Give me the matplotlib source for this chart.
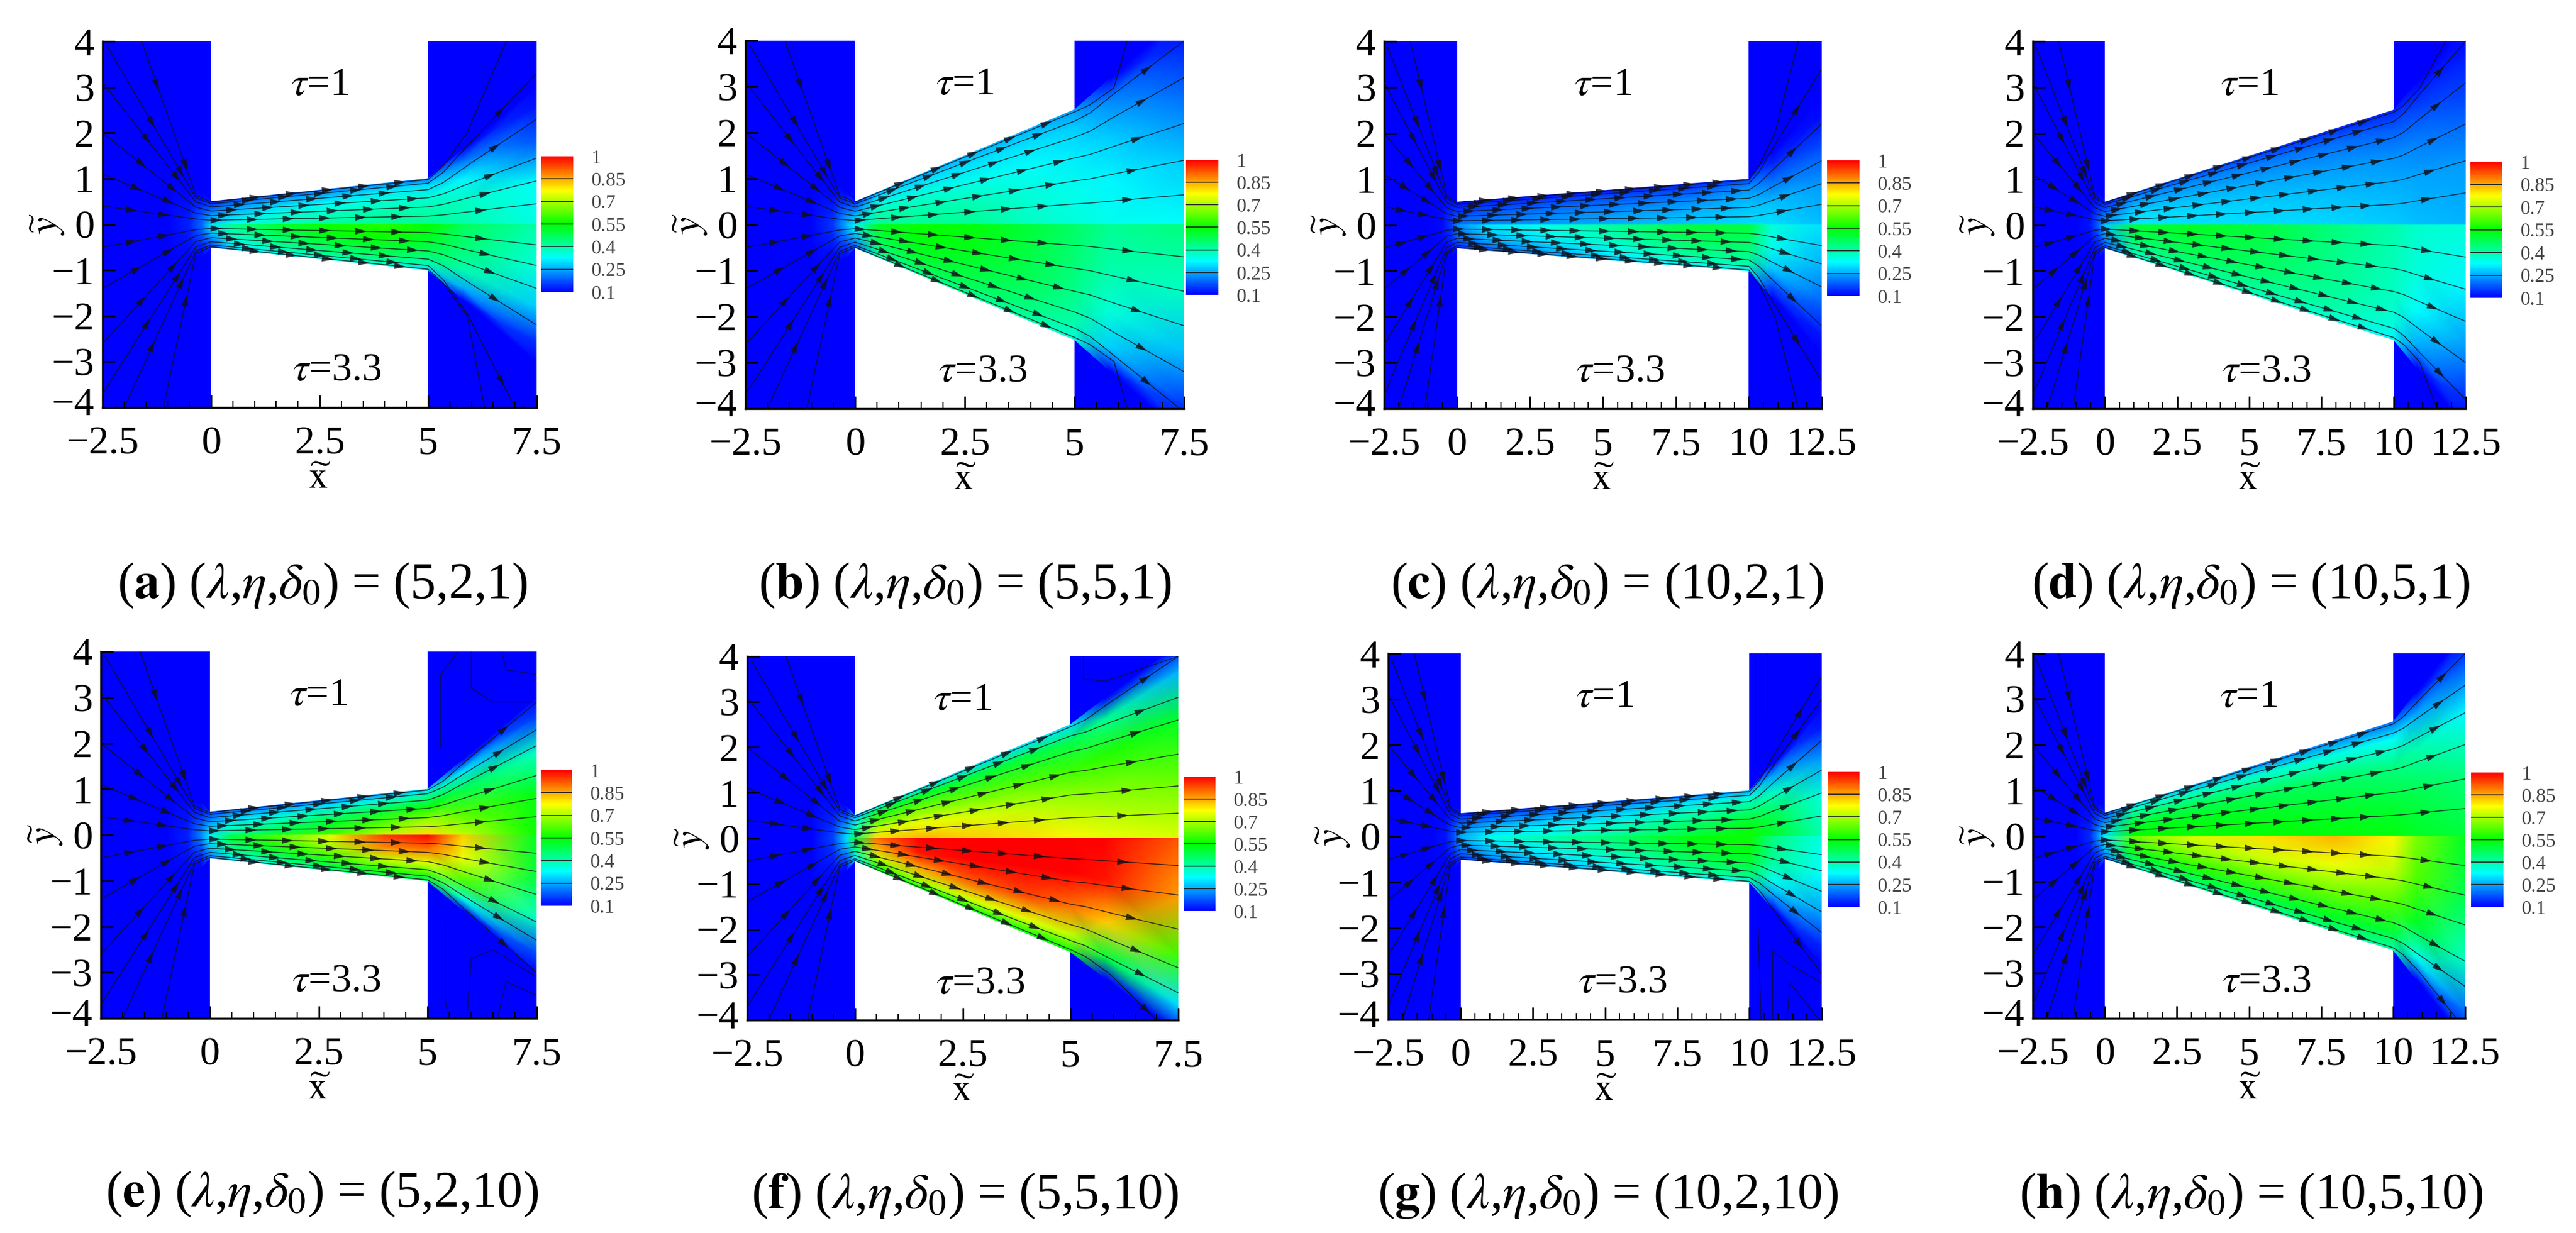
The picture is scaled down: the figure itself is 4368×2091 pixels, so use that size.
import numpy as np
import matplotlib
matplotlib.use('Agg')
import matplotlib.pyplot as plt
from matplotlib.colors import LinearSegmentedColormap, Normalize
from matplotlib.cm import ScalarMappable
from matplotlib.transforms import ScaledTranslation

plt.rcParams['font.family'] = ['Liberation Serif', 'DejaVu Serif']
plt.rcParams['mathtext.fontset'] = 'stix'

W, H = 4368, 2091

# colour scale
cbar_ticks = [0.1, 0.25, 0.4, 0.55, 0.7, 0.85, 1]
cmap = LinearSegmentedColormap.from_list('rainbow5', ['#0000ff', '#00ffff', '#00ff00', '#ffff00', '#ff0000'])
norm = Normalize(0.1, 1)

# rows of the value tables: channel stations as fraction of lambda, then stations behind the exit
frac_stations = [0, 0.1, 0.3, 0.55, 0.8, 1.0]
exit_stations = [0.8, 2.5]
inlet_stations = [-1.0, -0.5, -0.2]
inlet_heights = [1.5, 1.0, 0.7]
# columns: fraction of local half height
t_levels = [0, 0.3, 0.6, 0.85, 1.0]

labels = ['a', 'b', 'c', 'd', 'e', 'f', 'g', 'h']
lambdas = [5, 5, 10, 10, 5, 5, 10, 10]
etas = [2, 5, 2, 5, 2, 5, 2, 5]
deltas = [1, 1, 1, 1, 10, 10, 10, 10]
fan_tops = [3.0, 4.6, 2.8, 4.4, 3.0, 4.3, 2.8, 4.5]

# field values, tau=1 half (upper) and tau=3.3 half (lower)
a_upper = [[.28, .25, .2, .15, .12], [.33, .3, .25, .2, .15], [.38, .36, .3, .24, .18], [.42, .38, .33, .26, .2],
           [.42, .4, .36, .3, .22], [.42, .4, .36, .3, .2], [.4, .38, .32, .2, .1], [.35, .33, .18, .12, .1]]
a_lower = [[.3, .28, .22, .17, .15], [.42, .4, .36, .32, .28], [.5, .47, .43, .38, .33], [.56, .54, .48, .42, .36],
           [.58, .56, .5, .43, .36], [.55, .52, .47, .4, .3], [.47, .45, .4, .25, .1], [.4, .36, .28, .14, .1]]
b_upper = [[.3, .28, .22, .17, .14], [.42, .4, .36, .3, .25], [.42, .4, .36, .3, .25], [.42, .39, .34, .3, .26],
           [.38, .36, .33, .3, .26], [.36, .34, .31, .28, .24], [.34, .32, .28, .22, .1], [.33, .28, .2, .13, .1]]
b_lower = [[.32, .3, .25, .2, .17], [.52, .5, .46, .42, .38], [.56, .54, .52, .48, .42], [.54, .53, .5, .47, .42],
           [.5, .49, .47, .44, .4], [.46, .45, .43, .4, .36], [.42, .4, .36, .28, .1], [.44, .38, .27, .15, .1]]
c_upper = [[.2, .18, .15, .12, .1], [.22, .2, .17, .14, .12], [.24, .22, .19, .15, .12], [.26, .24, .2, .16, .12],
           [.28, .26, .22, .17, .13], [.3, .28, .26, .22, .15], [.3, .27, .2, .13, .1], [.27, .24, .17, .11, .1]]
c_lower = [[.22, .2, .18, .15, .13], [.3, .28, .25, .2, .17], [.35, .33, .29, .25, .22], [.42, .4, .36, .32, .27],
           [.5, .48, .44, .38, .32], [.5, .47, .44, .4, .32], [.36, .34, .28, .16, .1], [.3, .26, .19, .12, .1]]
d_upper = [[.24, .22, .18, .14, .12], [.31, .3, .26, .22, .18], [.3, .29, .26, .22, .17], [.3, .28, .25, .21, .15],
           [.29, .27, .24, .2, .14], [.28, .26, .23, .18, .13], [.27, .25, .21, .15, .1], [.26, .24, .17, .12, .1]]
d_lower = [[.28, .26, .22, .18, .15], [.5, .48, .44, .4, .36], [.52, .5, .47, .43, .39], [.5, .48, .46, .42, .38],
           [.44, .43, .42, .4, .36], [.4, .39, .38, .36, .32], [.37, .36, .33, .25, .1], [.36, .32, .24, .14, .1]]
e_upper = [[.3, .28, .22, .18, .15], [.42, .38, .3, .24, .18], [.5, .44, .36, .26, .18], [.6, .52, .42, .3, .2],
           [.72, .62, .5, .36, .24], [.8, .7, .56, .42, .3], [.72, .62, .48, .3, .1], [.56, .53, .38, .16, .1]]
e_lower = [[.32, .3, .26, .22, .18], [.5, .47, .42, .36, .3], [.62, .58, .5, .42, .36], [.76, .7, .6, .5, .42],
           [.95, .88, .72, .58, .48], [1.0, .9, .75, .6, .45], [.82, .76, .62, .36, .1], [.52, .5, .38, .17, .1]]
f_upper = [[.45, .42, .35, .28, .22], [.8, .72, .6, .5, .34], [.84, .76, .65, .52, .3], [.82, .74, .63, .5, .3],
           [.8, .72, .62, .5, .3], [.78, .7, .6, .48, .3], [.76, .68, .58, .42, .1], [.74, .64, .52, .26, .1]]
f_lower = [[.5, .46, .4, .32, .28], [.9, .84, .72, .6, .5], [1, .98, .85, .7, .54], [1, 1, .92, .74, .54],
           [1, 1, .94, .75, .54], [1, 1, .9, .72, .54], [1, .98, .82, .5, .1], [.92, .86, .6, .3, .1]]
g_upper = [[.25, .22, .18, .15, .12], [.32, .28, .22, .17, .13], [.36, .32, .26, .2, .15], [.42, .38, .3, .24, .17],
           [.5, .46, .38, .3, .2], [.56, .52, .44, .36, .25], [.52, .48, .38, .24, .1], [.4, .36, .24, .12, .1]]
g_lower = [[.25, .23, .2, .16, .14], [.34, .3, .26, .22, .18], [.4, .36, .31, .27, .22], [.46, .43, .38, .33, .28],
           [.54, .51, .46, .4, .34], [.56, .54, .5, .44, .34], [.44, .42, .34, .22, .1], [.35, .33, .24, .13, .1]]
h_upper = [[.3, .28, .22, .18, .15], [.55, .52, .46, .38, .3], [.56, .53, .48, .38, .26], [.55, .52, .47, .37, .22],
           [.54, .51, .46, .35, .22], [.54, .5, .44, .33, .2], [.52, .48, .4, .25, .1], [.5, .44, .32, .17, .1]]
h_lower = [[.32, .3, .26, .22, .18], [.65, .6, .52, .44, .38], [.74, .68, .58, .48, .4], [.8, .73, .62, .5, .42],
           [.84, .76, .64, .52, .44], [.78, .72, .62, .5, .4], [.66, .62, .52, .34, .1], [.52, .48, .38, .2, .1]]
uppers = [a_upper, b_upper, c_upper, d_upper, e_upper, f_upper, g_upper, h_upper]
lowers = [a_lower, b_lower, c_lower, d_lower, e_lower, f_lower, g_lower, h_lower]

# values in front of the orifice, rows x=-1, -0.5, -0.2
inlet_vals = [
    [[.1] * 5, [.13, .12, .11, .1, .1], [.2, .18, .14, .11, .1]],
    [[.1] * 5, [.15, .13, .11, .1, .1], [.26, .22, .16, .12, .1]],
    [[.1] * 5, [.11, .11, .1, .1, .1], [.15, .14, .12, .1, .1]],
    [[.1] * 5, [.12, .11, .1, .1, .1], [.2, .17, .13, .11, .1]],
    [[.1] * 5, [.13, .12, .11, .1, .1], [.22, .19, .14, .11, .1]],
    [[.1] * 5, [.16, .14, .12, .1, .1], [.3, .26, .18, .12, .1]],
    [[.1] * 5, [.12, .11, .1, .1, .1], [.18, .16, .13, .1, .1]],
    [[.1] * 5, [.14, .12, .11, .1, .1], [.25, .2, .15, .11, .1]],
]

# streamlines: start points in the inlet block, shared by all panels (inner to outer)
starts_upper = [(-2.5, 0.4), (-2.5, 1.1), (-2.5, 2.0), (-2.5, 3.1), (-2.4, 3.9), (-1.6, 4.0)]
starts_lower = [(-2.5, -0.5), (-2.5, -1.4), (-2.5, -2.6), (-2.5, -3.7), (-2.0, -4.0), (-1.1, -4.0)]
line_t_wall = [0.18, 0.38, 0.58, 0.76, 0.9, 0.98]

# streamlines: where they leave the picture on the right, per panel
ends_upper = [
    [(7.5, .45), (7.5, .95), (7.5, 1.45), (7.5, 2.3), (7.5, 3.3), (6.8, 4)],
    [(7.5, .65), (7.5, 1.4), (7.5, 2.2), (7.5, 3.2), (7.5, 4), (6.2, 4)],
    [(12.5, .45), (12.5, .9), (12.5, 1.4), (12.5, 2.2), (12.5, 3.4), (11.7, 4)],
    [(12.5, .7), (12.5, 1.4), (12.5, 2.2), (12.5, 3.1), (12.5, 4), (11.8, 4)],
    [(7.5, .4), (7.5, .8), (7.5, 1.3), (7.5, 1.95), (7.5, 2.3), (7.5, 2.9)],
    [(7.5, .55), (7.5, 1.15), (7.5, 1.85), (7.5, 2.6), (7.5, 3.1), (7.5, 4)],
    [(12.5, .45), (12.5, .95), (12.5, 1.45), (12.5, 2.1), (12.5, 3.0), (12.5, 3.5)],
    [(12.5, .6), (12.5, 1.25), (12.5, 2.0), (12.5, 2.7), (12.5, 3.3), (12.5, 4)],
]
ends_lower = [
    [(7.5, -.45), (7.5, -.9), (7.5, -1.4), (7.5, -2.2), (7.0, -4), (6.3, -4)],
    [(7.5, -.7), (7.5, -1.45), (7.5, -2.2), (7.5, -3.2), (7.4, -4), (6.2, -4)],
    [(12.5, -.45), (12.5, -.85), (12.5, -1.35), (12.5, -2.2), (12.5, -3.4), (11.7, -4)],
    [(12.5, -.7), (12.5, -1.4), (12.5, -2.1), (12.5, -3.0), (12.5, -3.8), (11.5, -4)],
    [(7.5, -.4), (7.5, -.8), (7.5, -1.3), (7.5, -1.9), (7.5, -2.3), (7.5, -3.0)],
    [(7.5, -.6), (7.5, -1.25), (7.5, -2.0), (7.5, -2.85), (7.5, -3.4), (7.0, -4)],
    [(12.5, -.4), (12.5, -.75), (12.5, -1.2), (12.5, -1.65), (12.5, -2.1), (12.5, -3.0)],
    [(12.5, -.65), (12.5, -1.3), (12.5, -1.95), (12.5, -2.75), (12.5, -3.3), (12.2, -4)],
]

# recirculation curves behind the exit
eddies = {
    'e': [[(5.3, 1.9), (5.3, 3.5), (5.7, 4)], [(6.0, 4), (6.0, 3.2), (6.5, 2.9), (7.5, 2.9)],
          [(6.7, 4), (6.8, 3.6), (7.5, 3.5)], [(5.4, -1.9), (5.4, -3.6), (5.5, -4)],
          [(5.9, -4), (6.0, -2.7), (6.5, -2.5), (7.5, -3.1)], [(6.6, -4), (6.8, -3.2), (7.5, -3.5)]],
    'f': [[(5.3, 4), (5.3, 3.5), (5.8, 3.45), (7.5, 4)]],
    'g': [[(10.2, 3.9), (10.2, 1.6)], [(10.6, 4), (10.6, 2.6)], [(10.3, -2), (10.4, -4)],
          [(10.8, -4), (10.8, -2.5), (11.4, -2.8), (12.5, -3.2)], [(11.3, -4), (11.4, -3.2), (12.4, -4)]],
}

# panel boxes in reference pixels: left, right, top, bottom
boxes = [(174, 910, 70, 691), (1264, 2008, 69, 693), (2347, 3089, 70, 693), (3447, 4181, 70, 693),
         (171, 910, 1105, 1727), (1267, 1998, 1113, 1730), (2354, 3089, 1108, 1729), (3447, 4180, 1108, 1727)]
# colourbars: left, right, top, bottom
cbar_boxes = [(918, 972, 265, 495), (2011, 2066, 271, 500), (3098, 3153, 272, 502), (4189, 4243, 274, 505),
              (917, 970, 1306, 1536), (2008, 2061, 1317, 1545), (3099, 3153, 1309, 1538), (4190, 4245, 1310, 1538)]
# caption centres
caption_pos = [(547, 993), (1636, 993), (2725, 993), (3817, 993),
               (546, 2025), (1636, 2028), (2727, 2028), (3817, 2028)]


def add_axes_px(fig, left, right, top, bottom):
    return fig.add_axes([left / W, 1 - bottom / H, (right - left) / W, (bottom - top) / H])


def half_field(ax, lam, eta, fan, table, inlet, sign):
    h_wall = eta / 2
    xs = list(inlet_stations) + [f * lam for f in frac_stations] + [lam + d for d in exit_stations]
    hs = list(inlet_heights) + [0.5 + (h_wall - 0.5) * f for f in frac_stations]
    hs += [h_wall + (fan - h_wall) * d / 2.5 for d in exit_stations]
    X = np.repeat(np.array(xs)[:, None], len(t_levels), axis=1)
    Y = sign * np.outer(hs, t_levels)
    C = np.array(list(inlet) + list(table))
    ax.pcolormesh(X, Y, C, shading='gouraud', cmap=cmap, norm=norm, zorder=2)


def stream(ax, lam, eta, start, end, t_wall, sign, idx):
    h_wall = eta / 2
    y_wall = sign * t_wall * h_wall
    y_in = sign * t_wall * 0.5
    xe, ye = end
    pts = [start, (-0.35, y_in * 1.05 + sign * 0.12 * t_wall), (0, y_in), (lam, y_wall),
           (lam + 0.35, y_wall + (ye - y_wall) * 0.1), (lam + 0.9, y_wall + (ye - y_wall) * 0.34), (xe, ye)]
    px = np.array([p[0] for p in pts])
    py = np.array([p[1] for p in pts])
    ax.plot(px, py, color='#101018', lw=1.1, alpha=0.8, zorder=3)
    # arrow heads: inlet, channel, outlet
    step = lam / 6 if lam == 5 else lam / 10
    ax_list = [-1.7 + 0.1 * idx, -0.95 + 0.08 * idx]
    ax_list += list(np.arange(0.25 + 0.18 * idx, lam - 0.1, step))
    ax_list += [lam + 1.35 + 0.1 * idx]
    for xa in ax_list:
        if xa <= px[0] or xa >= px[-1]:
            continue
        ya = np.interp(xa, px, py)
        yb = np.interp(xa - 0.08, px, py)
        ax.annotate('', xy=(xa, ya), xytext=(xa - 0.08, yb),
                    arrowprops=dict(arrowstyle='-|>,head_length=0.7,head_width=0.2', color='#101018', lw=0.3,
                                    alpha=0.8, mutation_scale=19, shrinkA=0, shrinkB=0),
                    zorder=4)


fig = plt.figure(figsize=(W / 100, H / 100), dpi=100)

for i, lab in enumerate(labels):
    lam, eta = lambdas[i], etas[i]
    left, right, top, bottom = boxes[i]
    ax = add_axes_px(fig, left, right, top, bottom)
    ax.set_xlim(-2.5, lam + 2.5)
    ax.set_ylim(-4, 4)

    # blue reservoirs
    ax.pcolormesh([-2.5, 0], [-4, 4], [[0.1]], cmap=cmap, norm=norm, zorder=1)
    ax.pcolormesh([lam, lam + 2.5], [-4, 4], [[0.1]], cmap=cmap, norm=norm, zorder=1)

    half_field(ax, lam, eta, fan_tops[i], uppers[i], inlet_vals[i], 1)
    half_field(ax, lam, eta, fan_tops[i], lowers[i], inlet_vals[i], -1)

    for k in range(len(line_t_wall)):
        stream(ax, lam, eta, starts_upper[k], ends_upper[i][k], line_t_wall[k], 1, k)
        stream(ax, lam, eta, starts_lower[k], ends_lower[i][k], line_t_wall[k], -1, k)
    for curve in eddies.get(lab, []):
        ax.plot([p[0] for p in curve], [p[1] for p in curve], color='#101018', lw=1.0, alpha=0.7, zorder=3)

    ax.spines['top'].set_visible(False)
    ax.spines['right'].set_visible(False)
    ax.spines['left'].set_linewidth(2.5)
    ax.spines['bottom'].set_linewidth(2.5)
    ax.set_axisbelow(False)

    xt = np.arange(-2.5, lam + 2.6, 2.5)
    ax.set_xticks(xt)
    ax.set_xticklabels([f'{v:g}'.replace('-', '\u2212') for v in xt])
    ax.set_xticks(np.arange(-2.5, lam + 2.6, 0.5), minor=True)
    yt = np.arange(-4, 5, 1)
    ax.set_yticks(yt)
    ax.set_yticklabels([f'{v:g}'.replace('-', '\u2212') for v in yt])
    ax.tick_params(axis='x', which='major', direction='in', length=15, width=2, labelsize=49, pad=23)
    ax.tick_params(axis='x', which='minor', direction='in', length=8, width=1.5)
    ax.tick_params(axis='y', which='major', direction='in', length=15, width=2, labelsize=49, pad=10)
    # lift the lowest label a little, it sits right on top of the first x label
    low = ax.get_yticklabels()[0]
    low.set_transform(low.get_transform() + ScaledTranslation(0, 10 / 100, fig.dpi_scale_trans))

    ax_w, ax_h = right - left, bottom - top
    ax.text(0.5, -122 / ax_h, r'$\widetilde{\mathrm{x}}$', transform=ax.transAxes, ha='center', va='center', fontsize=46)
    ax.text(-93 / ax_w, 0.5, r'$\widetilde{y}$', transform=ax.transAxes, ha='center', va='center', fontsize=48, rotation=90)
    ax.text(0.5, 0.88, r'$\tau$=1', transform=ax.transAxes, ha='center', va='center', fontsize=49)
    ax.text(0.54, 0.10, r'$\tau$=3.3', transform=ax.transAxes, ha='center', va='center', fontsize=49)

    # colour bar
    cl, cr, ct, cb_bottom = cbar_boxes[i]
    cax = add_axes_px(fig, cl, cr, ct, cb_bottom)
    cb = fig.colorbar(ScalarMappable(norm=norm, cmap=cmap), cax=cax, ticks=cbar_ticks)
    cb.outline.set_visible(False)
    cb.ax.set_yticklabels([f'{v:g}' for v in cbar_ticks])
    cb.ax.tick_params(length=0, labelsize=24, labelcolor='#444444', pad=22)
    for v in cbar_ticks[1:-1]:
        cb.ax.axhline(v, color='#222222', lw=1.2)

    cx, cy = caption_pos[i]
    cap = (rf'($\mathbf{{{lab}}}$) ($\lambda$,$\eta$,$\delta_0$) = ({lam},{eta},{deltas[i]})')
    fig.text(cx / W, 1 - cy / H, cap, ha='center', va='center', fontsize=62)

fig.savefig('out.png', dpi=100)
